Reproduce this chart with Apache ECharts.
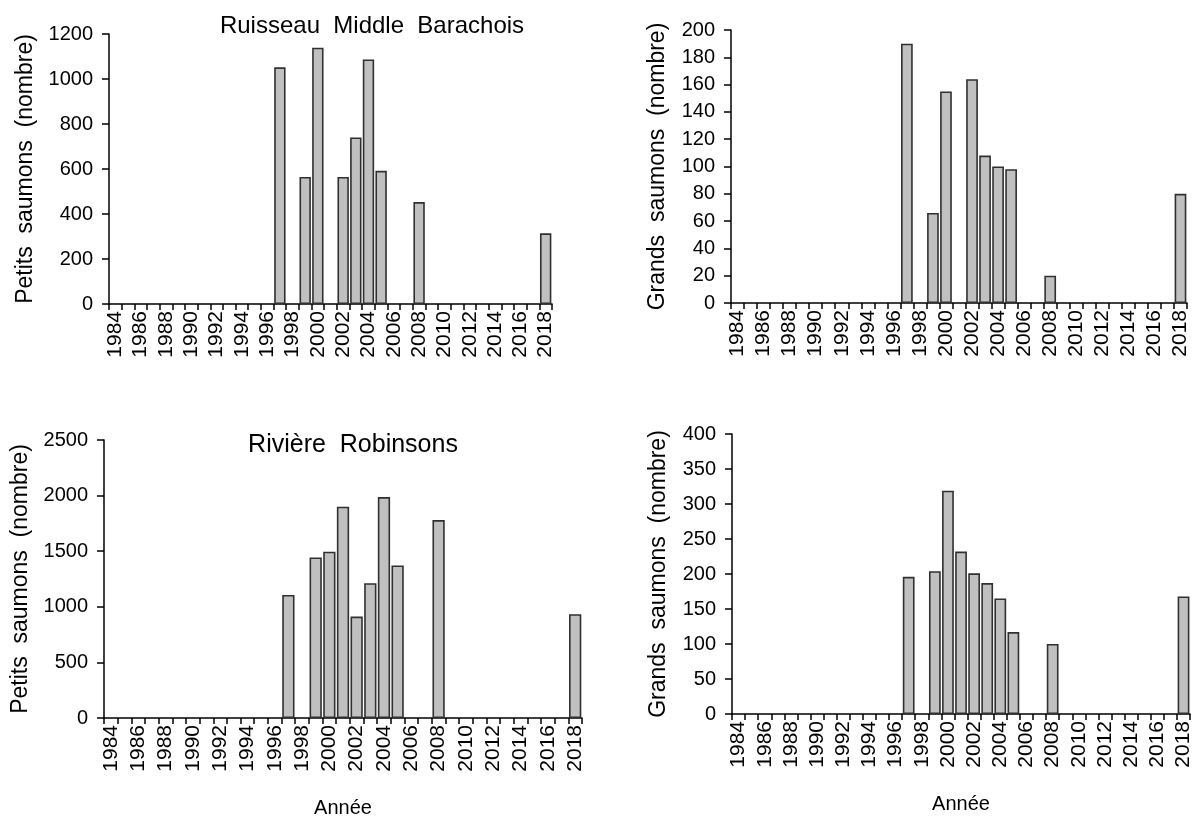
<!DOCTYPE html>
<html>
<head>
<meta charset="utf-8">
<script src="https://cdn.jsdelivr.net/npm/echarts@6/dist/echarts.min.js"></script>
<style>
html,body{margin:0;padding:0;background:#fff;}
#chart{width:1194px;height:821px;}
</style>
</head>
<body>
<div id="chart"></div>
<script>
// Categories: years 1984-2018
const years = [];
for (let y = 1984; y <= 2018; y++) years.push(String(y));

const obsYears = ['1997','1999','2000','2001','2002','2003','2004','2005','2008','2018'];

// Ruisseau Middle Barachois
const mbSmall = [1052, 565, 1139, null, 565, 740, 1087, 592, 453, 314];
const mbLarge = [190, 66, 155, null, 164, 108, 100, 98, 20, 80];
// Rivière Robinsons
const rbSmall = [1107, 1444, 1495, 1900, 912, 1212, 1987, 1372, 1780, 933];
const rbLarge = [196, 204, 319, 232, 201, 187, 165, 117, 100, 168];

const panelTitles = ['Ruisseau  Middle  Barachois', 'Rivière  Robinsons'];
const yTitles = ['Petits  saumons  (nombre)', 'Grands  saumons  (nombre)'];
const xTitle = 'Année';

function expand(vals) {
  const map = {};
  obsYears.forEach((y, i) => { map[y] = vals[i]; });
  return years.map(y => (map[y] === undefined ? null : map[y]));
}

const FONT = "'Liberation Sans', Arial, sans-serif";
const grids = [
  {left: 109, top: 34, width: 443, height: 270},
  {left: 731, top: 30, width: 456, height: 273},
  {left: 104, top: 440, width: 478, height: 278},
  {left: 732, top: 434, width: 460, height: 280}
];
const yMax = [1200, 200, 2500, 400];
const yInt = [200, 20, 500, 50];
const seriesData = [mbSmall, mbLarge, rbSmall, rbLarge];

const axisLine = {show: true, lineStyle: {color: '#000', width: 1.5}};

const option = {
  animation: false,
  backgroundColor: '#fff',
  textStyle: {fontFamily: FONT, color: '#000'},
  title: [
    {text: panelTitles[0], left: 367, top: 9, textAlign: 'center',
     textStyle: {fontFamily: FONT, fontSize: 24, fontWeight: 'normal', color: '#000'}},
    {text: panelTitles[1], left: 348, top: 428, textAlign: 'center',
     textStyle: {fontFamily: FONT, fontSize: 25, fontWeight: 'normal', color: '#000'}}
  ],
  grid: grids.map(g => Object.assign({containLabel: false}, g)),
  xAxis: grids.map((g, i) => ({
    type: 'category',
    gridIndex: i,
    data: years,
    boundaryGap: true,
    axisLine: axisLine,
    axisTick: {show: true, inside: false, length: 6, interval: 0, alignWithLabel: false,
               lineStyle: {color: '#000', width: 1.5}},
    axisLabel: {interval: 1, rotate: 90, margin: 7, fontSize: 21, color: '#000', fontFamily: FONT},
    splitLine: {show: false},
    name: (i >= 2) ? xTitle : '',
    nameLocation: 'middle',
    nameGap: 80,
    nameTextStyle: {fontSize: 20, color: '#000', fontFamily: FONT}
  })),
  yAxis: grids.map((g, i) => ({
    type: 'value',
    gridIndex: i,
    min: 0,
    max: yMax[i],
    interval: yInt[i],
    axisLine: axisLine,
    axisTick: {show: true, inside: false, length: 7, lineStyle: {color: '#000', width: 1.5}},
    axisLabel: {margin: 16, fontSize: 20, color: '#000', fontFamily: FONT,
                formatter: v => String(v)},
    splitLine: {show: false},
    name: yTitles[i % 2],
    nameLocation: 'middle',
    nameGap: (i % 2 === 0) ? 72 : 62,
    nameTextStyle: {fontSize: 23, color: '#000', fontFamily: FONT}
  })),
  series: seriesData.map((d, i) => ({
    type: 'bar',
    xAxisIndex: i,
    yAxisIndex: i,
    data: expand(d),
    barCategoryGap: '10%',
    itemStyle: {color: '#c0c0c0', borderColor: '#303030', borderWidth: 1.6}
  }))
};

const chart = echarts.init(document.getElementById('chart'), null, {renderer: 'canvas'});
chart.setOption(option);
</script>
</body>
</html>
